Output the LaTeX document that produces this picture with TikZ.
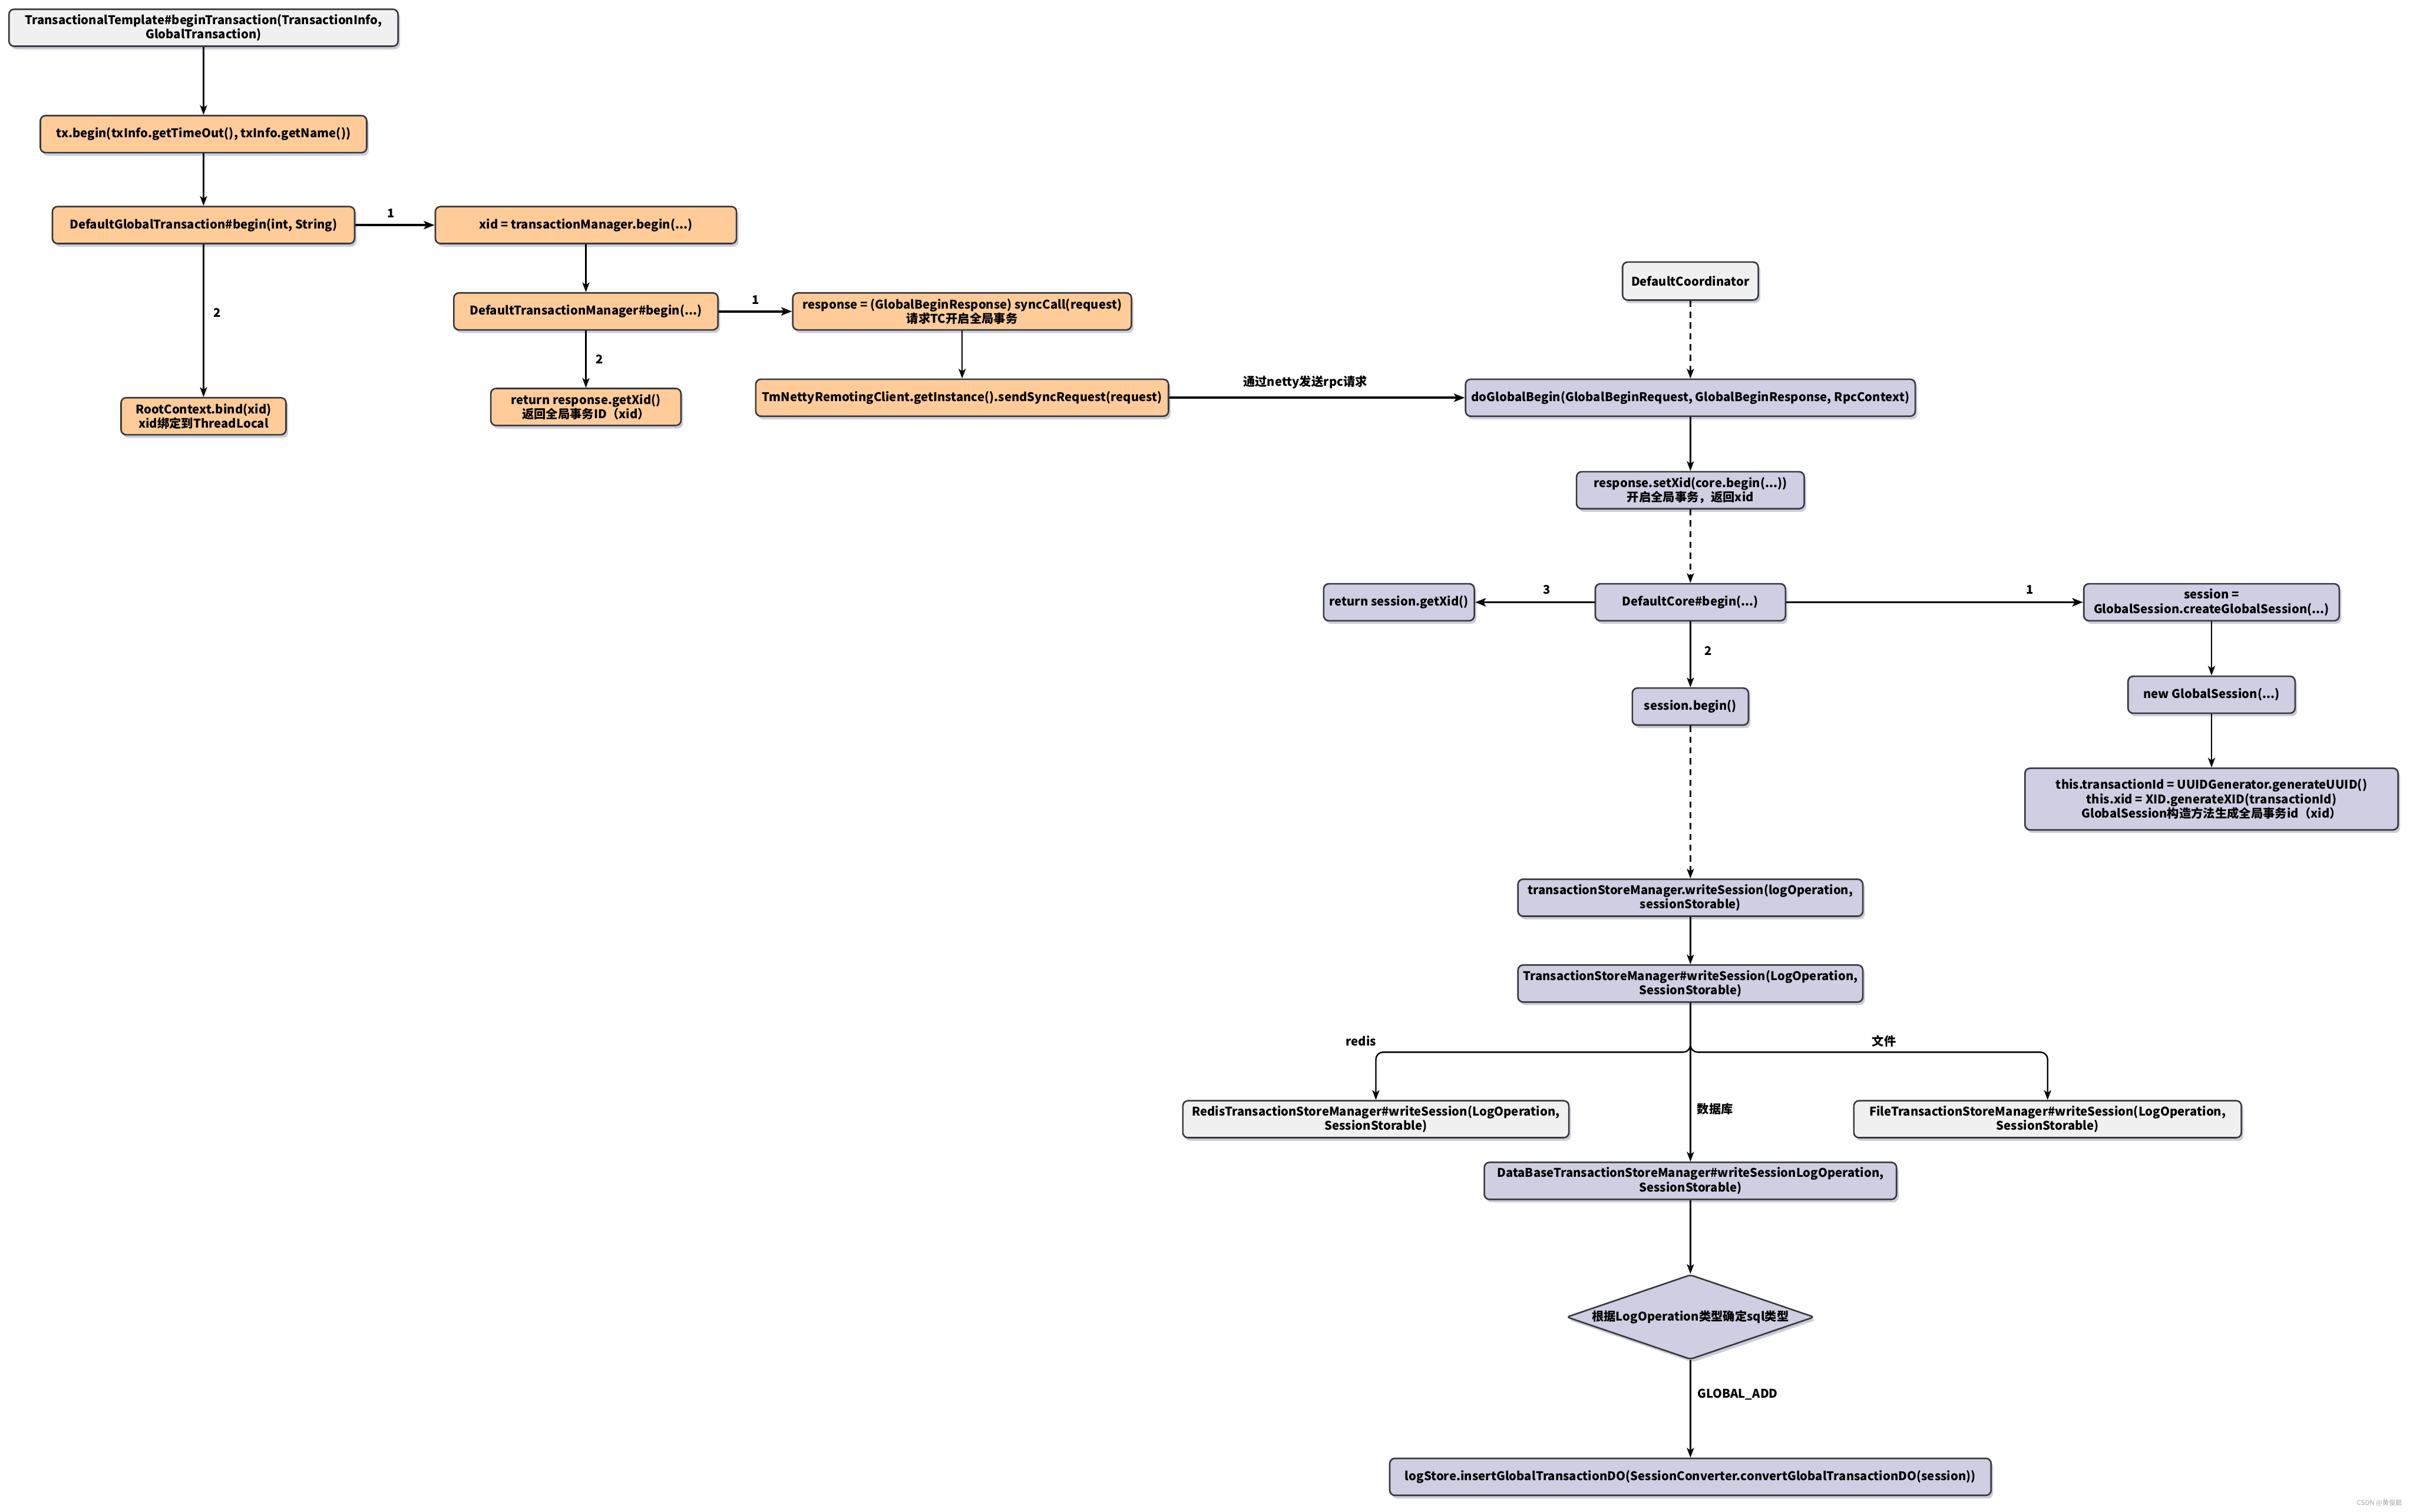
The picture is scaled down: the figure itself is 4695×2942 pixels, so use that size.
\documentclass[tikz,border=0pt]{standalone}
\usepackage{fontspec}
\setmainfont{Noto Sans CJK SC}
\usepackage{tikz}
\usetikzlibrary{arrows.meta,shapes.geometric,positioning,shadows}

\definecolor{tmfill}{HTML}{FFCC99}
\definecolor{tcfill}{HTML}{D0CEE2}
\definecolor{grayfill}{HTML}{F0F0F0}
\definecolor{edgecol}{HTML}{36393D}

\begin{document}
\begin{tikzpicture}[
  x=1pt, y=-1pt,
  font=\fontsize{23.3}{28}\selectfont\bfseries,
  box/.style={rectangle, rounded corners=10pt, draw=edgecol, line width=3pt,
              minimum height=72pt, align=center, inner sep=4pt,
              drop shadow={shadow xshift=4pt, shadow yshift=-6pt,
                           opacity=.28, fill=blue!25!black!70}},
  tm/.style={box, fill=tmfill},
  tc/.style={box, fill=tcfill},
  entry/.style={box, fill=grayfill},
  decision/.style={diamond, aspect=2.9, rounded corners=6pt, draw=edgecol,
                   line width=3pt, fill=tcfill, inner sep=0pt,
                   minimum width=482pt, minimum height=165pt,
                   drop shadow={shadow xshift=4pt, shadow yshift=-6pt,
                                opacity=.28, fill=blue!25!black!70}},
  arrow/.style={-{Stealth[length=19pt, width=14pt, inset=5pt]}, line width=2.8pt},
  thickarrow/.style={-{Stealth[length=21pt, width=16pt, inset=5pt]}, line width=4.2pt},
  dasharrow/.style={arrow, dashed, dash pattern=on 12pt off 9pt},
  edgelabel/.style={font=\fontsize{23.3}{28}\selectfont\bfseries, inner sep=4pt}
]

\useasboundingbox (0,0) rectangle (4695,2942);
\fill[white] (0,0) rectangle (4695,2942);

%% TM side: client begins the global transaction
\node[entry, minimum width=757pt] (tpl) at (396,54)
  {TransactionalTemplate\#beginTransaction(TransactionInfo,\\GlobalTransaction)};
\node[tm, minimum width=635pt] (txbegin) at (396,261)
  {tx.begin(txInfo.getTimeOut(), txInfo.getName())};
\node[tm, minimum width=588pt] (dgt) at (396,438)
  {DefaultGlobalTransaction\#begin(int, String)};
\node[tm, minimum width=321pt] (bind) at (396,810)
  {RootContext.bind(xid)\\xid绑定到ThreadLocal};

\node[tm, minimum width=586pt] (tmbegin) at (1140,438)
  {xid = transactionManager.begin(...)};
\node[tm, minimum width=514pt] (dtm) at (1140,606)
  {DefaultTransactionManager\#begin(...)};
\node[tm, minimum width=370pt] (retxid) at (1140,792)
  {return response.getXid()\\返回全局事务ID（xid）};

\node[tm, minimum width=659pt] (sync) at (1872,606)
  {response = (GlobalBeginResponse) syncCall(request)\\请求TC开启全局事务};
\node[tm, minimum width=803pt] (netty) at (1872,774)
  {TmNettyRemotingClient.getInstance().sendSyncRequest(request)};

\draw[arrow] (tpl) -- (txbegin);
\draw[arrow] (txbegin) -- (dgt);
\draw[thickarrow] (dgt) -- node[edgelabel, above=8pt, pos=.45] (l-dgt1) {1} (tmbegin);
\draw[arrow] (dgt) -- node[edgelabel, right=14pt, pos=.45] (l-dgt2) {2} (bind);
\draw[arrow] (tmbegin) -- (dtm);
\draw[thickarrow] (dtm) -- node[edgelabel, above=8pt] (l-dtm1) {1} (sync);
\draw[arrow] (dtm) -- node[edgelabel, right=14pt] (l-dtm2) {2} (retxid);
\draw[arrow] (sync) -- (netty);

%% TC side: coordinator handles the begin request
\node[entry, minimum width=264pt, minimum height=74pt] (coord) at (3289,547)
  {DefaultCoordinator};
\node[tc, minimum width=875pt] (doglobal) at (3289,774)
  {doGlobalBegin(GlobalBeginRequest, GlobalBeginResponse, RpcContext)};
\node[tc, minimum width=443pt] (setxid) at (3289,954)
  {response.setXid(core.begin(...))\\开启全局事务，返回xid};
\node[tc, minimum width=370pt] (core) at (3289,1172) {DefaultCore\#begin(...)};
\node[tc, minimum width=293pt] (getxid) at (2722,1172) {return session.getXid()};
\node[tc, minimum width=497pt] (create) at (4303,1172)
  {session =\\GlobalSession.createGlobalSession(...)};
\node[tc, minimum width=226pt] (sbegin) at (3289,1375) {session.begin()};
\node[tc, minimum width=325pt] (newgs) at (4303,1352) {new GlobalSession(...)};
\node[tc, minimum width=726pt, minimum height=120pt] (genid) at (4303,1555)
  {this.transactionId = UUIDGenerator.generateUUID()\\this.xid = XID.generateXID(transactionId)\\GlobalSession构造方法生成全局事务id（xid）};

\draw[thickarrow] (netty) -- node[edgelabel, above=12pt, pos=.46] (l-rpc) {通过netty发送rpc请求} (doglobal);
\draw[dasharrow] (coord) -- (doglobal);
\draw[arrow] (doglobal) -- (setxid);
\draw[dasharrow] (setxid) -- (core);
\draw[thickarrow] (core) -- node[edgelabel, above=10pt, pos=.82] (l-core1) {1} (create);
\draw[arrow] (core) -- node[edgelabel, right=22pt, pos=.45] (l-core2) {2} (sbegin);
\draw[thickarrow] (core) -- node[edgelabel, above=10pt, pos=.4] (l-core3) {3} (getxid);
\draw[arrow] (create) -- (newgs);
\draw[arrow] (newgs) -- (genid);

%% Session store
\node[tc, minimum width=671pt] (write) at (3289,1747)
  {transactionStoreManager.writeSession(logOperation,\\sessionStorable)};
\node[tc, minimum width=671pt] (tsm) at (3289,1914)
  {TransactionStoreManager\#writeSession(LogOperation,\\SessionStorable)};
\node[entry, minimum width=751pt] (redis) at (2677,2178)
  {RedisTransactionStoreManager\#writeSession(LogOperation,\\SessionStorable)};
\node[entry, minimum width=754pt] (file) at (3984,2178)
  {FileTransactionStoreManager\#writeSession(LogOperation,\\SessionStorable)};
\node[tc, minimum width=802pt] (db) at (3289,2298)
  {DataBaseTransactionStoreManager\#writeSessionLogOperation,\\SessionStorable)};
\node[decision] (sqltype) at (3289,2563) {根据LogOperation类型确定sql类型};
\node[tc, minimum width=1170pt] (insert) at (3289,2874)
  {logStore.insertGlobalTransactionDO(SessionConverter.convertGlobalTransactionDO(session))};

\draw[dasharrow] (sbegin) -- (write);
\draw[arrow] (write) -- (tsm);
\draw[arrow, rounded corners=14pt] (tsm.south) -- ++(0,96) -| (redis.north);
\draw[arrow, rounded corners=14pt] (tsm.south) -- ++(0,96) -| (file.north);
\draw[arrow] (tsm) -- (db);
\draw[arrow] (db) -- (sqltype);
\draw[arrow] (sqltype) -- node[edgelabel, right=8pt, pos=.35] (l-add) {GLOBAL\_ADD} (insert);

\node[edgelabel] (l-redis) at (2648,2026) {redis};
\node[edgelabel] (l-file) at (3666,2026) {文件};
\node[edgelabel] (l-db) at (3337,2158) {数据库};

\node[font=\fontsize{13}{15}\selectfont, text=black!35] (mark) at (4630,2925) {CSDN @黄俊懿};

\end{tikzpicture}
\end{document}
